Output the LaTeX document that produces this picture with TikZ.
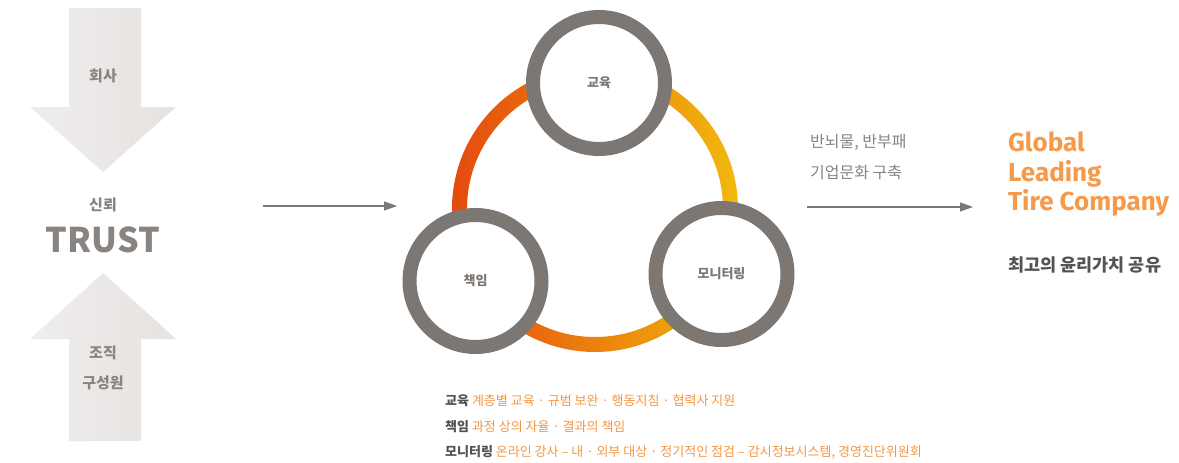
\documentclass[tikz,border=0pt]{standalone}
\usepackage{fontspec}
\setmainfont{Noto Sans CJK KR}
\newfontfamily\kr{Noto Sans CJK KR}
\newfontfamily\latinbold{Fira Sans}
\usetikzlibrary{arrows.meta}
\definecolor{ringgray}{HTML}{7D7774}
\definecolor{txtgray}{HTML}{8A8480}
\definecolor{darkgray}{HTML}{555250}
\definecolor{orangetxt}{HTML}{F5963F}
\definecolor{orangebig}{HTML}{F5994A}
\definecolor{ringred}{HTML}{E44A0E}
\definecolor{ringyellow}{HTML}{F2B90D}
\definecolor{arrowl}{HTML}{F0EEED}
\definecolor{arrowr}{HTML}{E5E2E0}
\tikzset{
  bigarrow/.style={left color=arrowl, right color=arrowr, draw=none},
  circnode/.style={circle, draw=ringgray, line width=14pt, fill=white, minimum size=132pt, inner sep=0pt, font=\kr\bfseries\fontsize{13}{15}\selectfont, text=ringgray},
  conn/.style={draw=ringgray, line width=1.2pt, -{Triangle[length=13pt,width=9pt]}},
  lbl/.style={inner sep=0pt, font=\kr\bfseries\fontsize{15}{18}\selectfont, text=txtgray},
  note/.style={inner sep=0pt, anchor=west, font=\kr\fontsize{13}{15}\selectfont, text=orangetxt},
  slogan/.style={inner sep=0pt, anchor=base west, font=\latinbold\bfseries\fontsize{26}{30}\selectfont, text=orangebig},
  antitxt/.style={inner sep=0pt, anchor=west, font=\kr\fontsize{16}{19}\selectfont, text=txtgray},
}
\begin{document}
\begin{tikzpicture}[x=1pt,y=-1pt]
\useasboundingbox (0,0) rectangle (1179,463);
% left arrows
\shade[bigarrow] (69,8) -- (141,8) -- (141,107) -- (176,107) -- (103,172) -- (30,107) -- (69,107) -- cycle;
\shade[bigarrow] (103,273) -- (176,339) -- (141,339) -- (141,441) -- (69,441) -- (69,339) -- (30,339) -- cycle;
\node[lbl] (hoesa) at (103,76) {회사};
\node[lbl] (sinroe) at (103,205) {신뢰};
\node[inner sep=0pt, font=\kr\bfseries\fontsize{34}{40}\selectfont, text=txtgray] (trust) at (103,240) {TRUST};
\node[lbl] (jojik) at (103,353) {조직};
\node[lbl] (gusong) at (103,383) {구성원};
% arrow 1
\coordinate (a1s) at (263,206);
\coordinate (a1e) at (397,206);
\draw[conn] (a1s) -- (a1e);
% ring
\shade[left color=ringred, right color=ringyellow, even odd rule] (595,209) circle (143) circle (128);
% circles
\node[circnode] (edu) at (599,83) {교육};
\node[circnode] (resp) at (475.5,281) {책임};
\node[circnode] (mon) at (721.5,274) {모니터링};
% arrow 2
\coordinate (a2s) at (807,207);
\coordinate (a2e) at (973,207);
\draw[conn] (a2s) -- (a2e);
\node[antitxt] (anti1) at (810,142) {반뇌물, 반부패};
\node[antitxt] (anti2) at (810,172) {기업문화 구축};
% right
\node[slogan] (g1) at (1008,151) {Global};
\node[slogan] (g2) at (1008,181) {Leading};
\node[slogan] (g3) at (1008,210) {Tire Company};
\node[inner sep=0pt, anchor=west, font=\kr\bfseries\fontsize{17.5}{20}\selectfont, text=darkgray] (share) at (1008,265) {최고의 윤리가치 공유};
% notes
\node[note] (n1) at (445,401) {{\bfseries\color{darkgray}교육} 계층별 교육 · 규범 보완 · 행동지침 · 협력사 지원};
\node[note] (n2) at (445,427) {{\bfseries\color{darkgray}책임} 과정 상의 자율 · 결과의 책임};
\node[note] (n3) at (445,452) {{\bfseries\color{darkgray}모니터링} 온라인 강사 – 내 · 외부 대상 · 정기적인 점검 – 감시정보시스템, 경영진단위원회};
\end{tikzpicture}
\end{document}
